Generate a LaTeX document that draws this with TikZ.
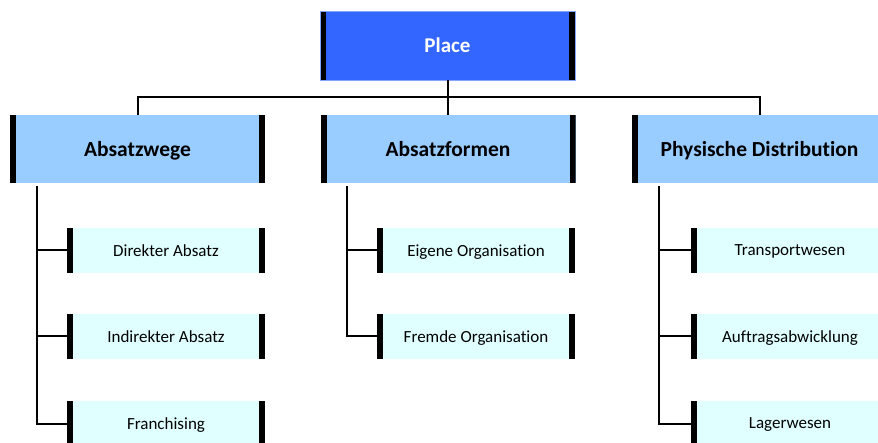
\documentclass[tikz,border=0pt]{standalone}
\usepackage{fontspec}
\setmainfont{Carlito}[Ligatures={NoCommon}]
\definecolor{topblue}{HTML}{3366FF}
\definecolor{midblue}{HTML}{99CCFF}
\definecolor{paleaqua}{HTML}{E0FFFF}
\tikzset{
  sidebars/.style={path picture={
    \fill[black] (path picture bounding box.north west) rectangle ([xshift=6pt]path picture bounding box.south west);
    \fill[black] (path picture bounding box.north east) rectangle ([xshift=-6pt]path picture bounding box.south east);}},
  anybox/.style={sidebars, rectangle, inner sep=0pt, text depth=0pt},
  topbox/.style={anybox, fill=topblue, draw=topblue!60, line width=0.6pt,
    minimum width=255pt, minimum height=69pt, text=white, font=\bfseries\fontsize{21}{24}\selectfont},
  groupbox/.style={anybox, fill=midblue,
    minimum width=255pt, minimum height=68pt, font=\bfseries\fontsize{21.5}{24}\selectfont},
  leafbox/.style={anybox, fill=paleaqua,
    minimum width=198pt, minimum height=45pt, font=\fontsize{17}{20}\selectfont},
  link/.style={draw=black, line width=2pt}
}
\begin{document}
\begin{tikzpicture}[x=1pt,y=-1pt]
\useasboundingbox (0,0) rectangle (878,443);
\clip (0,0) rectangle (878,443);
\fill[white] (0,0) rectangle (878,443);

% top level
\node[topbox] (place) at (447.5,45.5) {Place};

% second level
\node[groupbox] (wege)  at (137.5,149) {Absatzwege};
\node[groupbox] (form)  at (448,149) {Absatzformen};
\node[groupbox] (phys)  at (759.5,149) {Physische Distribution};

% leaves
\node[leafbox] (w1) at (166,250.5) {Direkter Absatz};
\node[leafbox] (w2) at (166,336.5) {Indirekter Absatz};
\node[leafbox] (w3) at (166,423.5) {Franchising};
\node[leafbox] (f1) at (476,250.5) {Eigene Organisation};
\node[leafbox] (f2) at (476,336.5) {Fremde Organisation};
\node[leafbox] (p1) at (790,250.5) {Transportwesen};
\node[leafbox] (p2) at (790,336.5) {Auftragsabwicklung};
\node[leafbox] (p3) at (790,423.5) {Lagerwesen};

% bus below the top box
\coordinate (bus) at (447.5,97);
\draw[link] (place.south) -- (bus);
\draw[link] (wege.north) -- (wege.north |- bus) -- (phys.north |- bus) -- (phys.north);
\draw[link] (form.north) -- (form.north |- bus);

% trunks to the leaves
\coordinate (wt) at ([xshift=27pt,yshift=-3pt]wege.south west);
\coordinate (ft) at ([xshift=27pt,yshift=-3pt]form.south west);
\coordinate (pt) at ([xshift=27pt,yshift=-3pt]phys.south west);
\draw[link] (wt) |- (w3.west);
\draw[link] (wt |- w1.west) -- (w1.west);
\draw[link] (wt |- w2.west) -- (w2.west);
\draw[link] (ft) |- (f2.west);
\draw[link] (ft |- f1.west) -- (f1.west);
\draw[link] (pt) |- (p3.west);
\draw[link] (pt |- p1.west) -- (p1.west);
\draw[link] (pt |- p2.west) -- (p2.west);
\end{tikzpicture}
\end{document}
